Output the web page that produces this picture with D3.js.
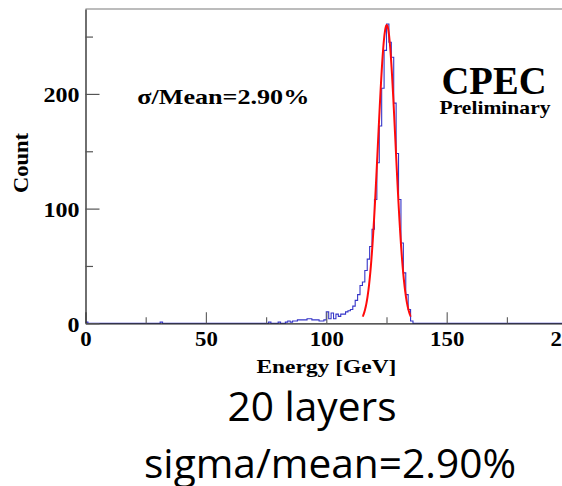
<!DOCTYPE html>
<html>
<head>
<meta charset="utf-8">
<script src="https://cdn.jsdelivr.net/npm/d3@7"></script>
<style>
  html, body { margin: 0; padding: 0; background: #fff; }
  svg { display: block; }
  .root { font-family: "Liberation Serif", "Times New Roman", serif; font-weight: bold; }
  .slide { font-family: "Open Sans", "Noto Sans", sans-serif; }
</style>
</head>
<body>
<svg id="chart" width="562" height="486"></svg>
<script>
// Energy histogram, 1 GeV bins: lower bin edge and entries (empty bins are omitted)
const binLowEdges = [0, 31, 76, 80, 83, 84, 85, 86, 87, 88, 89, 90, 91, 92, 93, 94, 95, 96, 97, 98, 99,
  100, 101, 102, 103, 104, 105, 106, 107, 108, 109, 110, 111, 112, 113, 114, 115, 116, 117, 118, 119,
  120, 121, 122, 123, 124, 125, 126, 127, 128, 129, 130, 131, 132, 133, 134, 135];
const binCounts = [1, 1, 1, 1, 1, 2, 1, 2, 2, 3, 3, 3, 3, 4, 4, 3, 3, 3, 2, 2, 3,
  10, 4, 9, 4, 8, 6, 8, 8, 10, 11, 12, 15, 20, 25, 33, 36, 46, 56, 67, 82,
  108, 140, 172, 205, 238, 261, 245, 232, 192, 148, 108, 70, 44, 25, 12, 2];
const nBins = 200;
const binWidth = 1;

// Gaussian fit of the peak
const fitConstant = 260;
const fitMean = 125.1;
const fitSigma = 3.628;          // sigma/mean = 2.90 %
const fitRange = [115.1, 135.1];

// Axis ticks
const xMajorTicks = [0, 50, 100, 150, 200];
const xMinorTicks = [25, 75, 125, 175];
const yMajorTicks = [0, 100, 200];
const yMinorTicks = [50, 150, 250];

const svg = d3.select("#chart");

const x = d3.scaleLinear().domain([0, 200]).range([85.5, 567.1]);
const yMax = 1.05 * d3.max(binCounts);
const y = d3.scaleLinear().domain([0, yMax]).range([323.3, 9]);

// full histogram including empty bins
const full = new Array(nBins).fill(0);
binLowEdges.forEach((e, i) => { full[Math.round(e / binWidth)] = binCounts[i]; });
const steps = full.map((c, i) => [i * binWidth, c]);
steps.push([nBins * binWidth, full[nBins - 1]]);

svg.append("defs").append("clipPath").attr("id", "frame")
  .append("rect")
  .attr("x", x(0)).attr("y", y(yMax) - 1)
  .attr("width", x(200) - x(0)).attr("height", y(0) - y(yMax) + 2);

// top edge of the frame
svg.append("line")
  .attr("x1", x(0)).attr("x2", 562)
  .attr("y1", y(yMax)).attr("y2", y(yMax))
  .attr("stroke", "#7a7a7a").attr("stroke-width", 1.2);

const plot = svg.append("g").attr("clip-path", "url(#frame)");

plot.append("path")
  .datum(steps)
  .attr("fill", "none")
  .attr("stroke", "#3535c8")
  .attr("stroke-width", 1.1)
  .attr("d", d3.line().x(d => x(d[0])).y(d => y(d[1])).curve(d3.curveStepAfter));

// fit curve
const gauss = e => fitConstant * Math.exp(-0.5 * ((e - fitMean) / fitSigma) ** 2);
const fitPts = d3.range(0, 201).map(i => {
  const e = fitRange[0] + (fitRange[1] - fitRange[0]) * i / 200;
  return [e, gauss(e)];
});
plot.append("path")
  .datum(fitPts)
  .attr("fill", "none")
  .attr("stroke", "#ff0a0a")
  .attr("stroke-width", 2)
  .attr("stroke-linejoin", "round")
  .attr("d", d3.line().x(d => x(d[0])).y(d => y(d[1])));

// x axis
const xAxis = svg.append("g").attr("transform", `translate(0,${y(0)})`)
  .call(d3.axisBottom(x).tickValues(xMajorTicks).tickSize(-11).tickSizeOuter(0).tickFormat(d3.format("d")));
xAxis.select(".domain").attr("stroke", "#222").attr("stroke-width", 1.3);
xAxis.selectAll(".tick line").attr("stroke", "#666").attr("stroke-width", 1.2);
xAxis.selectAll(".tick text")
  .attr("class", "root")
  .attr("y", 23).attr("dy", 0)
  .attr("fill", "#000")
  .style("font-size", "20px")
  .attr("textLength", d => String(d).length * 11.4)
  .attr("lengthAdjust", "spacingAndGlyphs");
svg.append("g").attr("transform", `translate(0,${y(0)})`)
  .call(d3.axisBottom(x).tickValues(xMinorTicks).tickSize(-6).tickSizeOuter(0).tickFormat(""))
  .call(g => g.select(".domain").remove())
  .call(g => g.selectAll(".tick line").attr("stroke", "#666").attr("stroke-width", 1.2));

// y axis
const yAxis = svg.append("g").attr("transform", `translate(${x(0)},0)`)
  .call(d3.axisLeft(y).tickValues(yMajorTicks).tickSize(-14).tickSizeOuter(0).tickPadding(6).tickFormat(d3.format("d")));
yAxis.select(".domain").attr("stroke", "#222").attr("stroke-width", 1.3);
yAxis.selectAll(".tick line").attr("stroke", "#555").attr("stroke-width", 1.2);
yAxis.selectAll(".tick text")
  .attr("class", "root")
  .attr("fill", "#000")
  .attr("dy", "0.35em")
  .style("font-size", "22px")
  .attr("textLength", d => String(d).length * 12)
  .attr("lengthAdjust", "spacingAndGlyphs");
svg.append("g").attr("transform", `translate(${x(0)},0)`)
  .call(d3.axisLeft(y).tickValues(yMinorTicks).tickSize(-7.5).tickSizeOuter(0).tickFormat(""))
  .call(g => g.select(".domain").remove())
  .call(g => g.selectAll(".tick line").attr("stroke", "#555").attr("stroke-width", 1.2));

// axis titles
svg.append("text").attr("class", "root")
  .attr("transform", "translate(28,163) rotate(-90)")
  .attr("text-anchor", "middle")
  .style("font-size", "22px")
  .attr("textLength", 60).attr("lengthAdjust", "spacingAndGlyphs")
  .text("Count");

svg.append("text").attr("class", "root")
  .attr("x", 326.4).attr("y", 373)
  .attr("text-anchor", "middle")
  .style("font-size", "18px")
  .attr("textLength", 140).attr("lengthAdjust", "spacingAndGlyphs")
  .text("Energy [GeV]");

// resolution label
svg.append("text").attr("class", "root")
  .attr("x", 137.3).attr("y", 103.5)
  .style("font-size", "21px")
  .attr("textLength", 172).attr("lengthAdjust", "spacingAndGlyphs")
  .text("σ/Mean=2.90%");

svg.append("text").attr("class", "root")
  .attr("x", 494).attr("y", 93.5)
  .attr("text-anchor", "middle")
  .style("font-size", "40px")
  .attr("textLength", 105).attr("lengthAdjust", "spacingAndGlyphs")
  .text("CPEC");

svg.append("text").attr("class", "root")
  .attr("x", 495).attr("y", 114)
  .attr("text-anchor", "middle")
  .style("font-size", "19px")
  .attr("textLength", 111).attr("lengthAdjust", "spacingAndGlyphs")
  .text("Preliminary");

// caption
svg.append("text").attr("class", "slide")
  .attr("x", 312).attr("y", 420.5)
  .attr("text-anchor", "middle")
  .style("font-size", "40px")
  .attr("textLength", 169).attr("lengthAdjust", "spacingAndGlyphs")
  .text("20 layers");

svg.append("text").attr("class", "slide")
  .attr("x", 330).attr("y", 477.5)
  .attr("text-anchor", "middle")
  .style("font-size", "40px")
  .attr("textLength", 372).attr("lengthAdjust", "spacingAndGlyphs")
  .text("sigma/mean=2.90%");
</script>
</body>
</html>
